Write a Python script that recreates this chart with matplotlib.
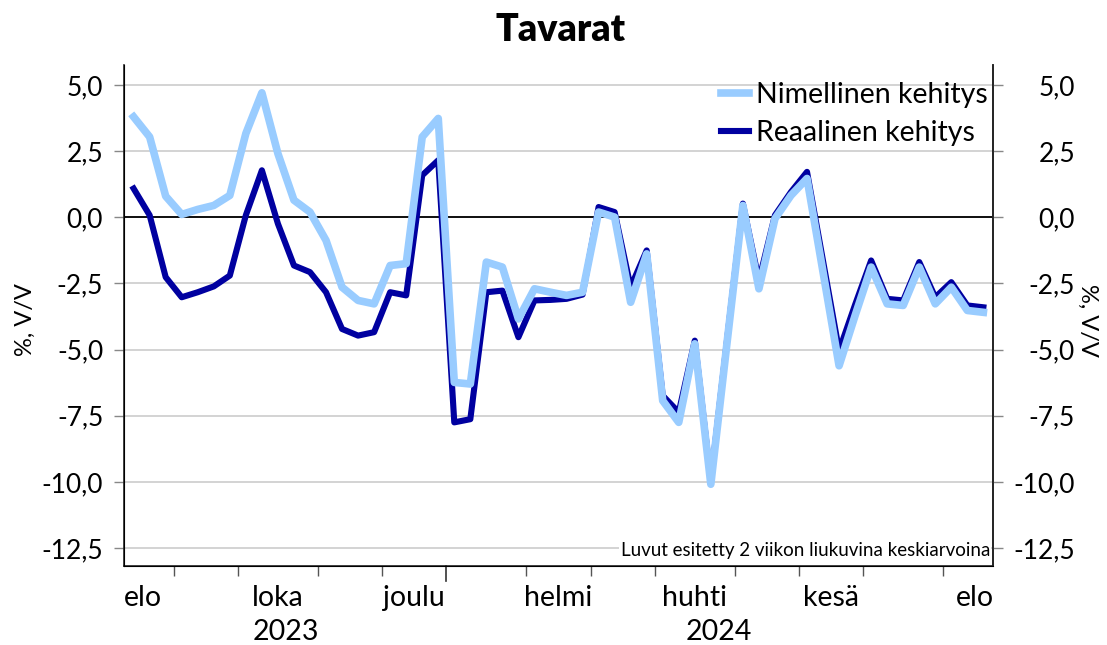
import numpy as np
import pandas as pd
import matplotlib
matplotlib.use("Agg")
import matplotlib.pyplot as plt
import matplotlib.transforms as mtransforms

# ================================
# DATA
# ================================

WEEKS = pd.date_range("2023-08-14", periods=54, freq="7D")

NOMINAL = [3.80, 3.04, 0.80, 0.11, 0.30, 0.45, 0.83, 3.17, 4.71, 2.41,
           0.65, 0.20, -0.87, -2.64, -3.14, -3.27, -1.82, -1.75, 3.04, 3.74,
           -6.24, -6.30, -1.69, -1.88, -3.84, -2.70, -2.83, -2.95, -2.83, 0.20,
           0.01, -3.21, -1.38, -6.93, -7.75, -4.78, -10.09, -4.80, 0.45, -2.70,
           -0.05, 0.83, 1.47, -2.07, -5.61, -3.71, -1.88, -3.27, -3.33, -1.88,
           -3.27, -2.64, -3.52, -3.59]

REAL = [1.09, 0.08, -2.26, -3.02, -2.83, -2.61, -2.20, 0.08, 1.78, -0.24,
        -1.82, -2.07, -2.83, -4.22, -4.47, -4.34, -2.83, -2.95, 1.59, 2.16,
        -7.75, -7.63, -2.83, -2.77, -4.53, -3.14, -3.12, -3.08, -2.92, 0.39,
        0.20, -2.64, -1.25, -6.74, -7.37, -4.66, -9.96, -4.70, 0.52, -2.39,
        0.08, 0.96, 1.72, -1.65, -5.04, -3.30, -1.63, -3.08, -3.14, -1.69,
        -3.02, -2.45, -3.33, -3.40]

MONTHS_FI = ["tammi", "helmi", "maalis", "huhti", "touko", "kesä",
             "heinä", "elo", "syys", "loka", "marras", "joulu"]
LABELED_MONTHS = [8, 10, 12, 2, 4, 6]

Y_TICKS = [5.0, 2.5, 0.0, -2.5, -5.0, -7.5, -10.0, -12.5]

TITLE = "Tavarat"
NOTE = "Luvut esitetty 2 viikon liukuvina keskiarvoina"

LIGHT = "#99ccff"
DARK = "#0000a0"

plt.rcParams["font.family"] = ["Lato", "DejaVu Sans"]

# ================================
# PLOT
# ================================

fig = plt.figure(figsize=(11.07, 6.45), dpi=100)
ax = fig.add_axes([124 / 1107, 1 - 566 / 645, 869 / 1107, 501 / 645])

x = np.arange(len(WEEKS))
ax.plot(x, REAL, color=DARK, lw=4.4, label="Reaalinen kehitys", zorder=3)
ax.plot(x, NOMINAL, color=LIGHT, lw=5.5, label="Nimellinen kehitys", zorder=4)

ax.axhline(0, color="black", lw=1.3, zorder=2)
ax.set_ylim(-13.18, 5.76)
ax.set_xlim(-0.6, 53.6)
ax.set_yticks(Y_TICKS)
ax.set_yticklabels([f"{v:.1f}".replace(".", ",") for v in Y_TICKS])
ax.grid(axis="y", color="#cccccc", lw=1.2, zorder=1)
ax.set_axisbelow(True)

for side in ["left", "right", "bottom"]:
    ax.spines[side].set_color("#222222")
    ax.spines[side].set_linewidth(1.2)
ax.spines["top"].set_visible(False)

ax.tick_params(axis="y", length=7, width=1, color="#888888", labelsize=19, pad=8)

# right axis
ax2 = ax.twinx()
ax2.set_ylim(ax.get_ylim())
ax2.set_yticks(Y_TICKS)
ax2.set_yticklabels([f"{v:.1f}".replace(".", ",") for v in Y_TICKS])
ax2.tick_params(axis="y", length=7, width=1, color="#888888", labelsize=19, pad=52)
for lab in ax2.get_yticklabels():
    lab.set_ha("right")
ax2.spines["top"].set_visible(False)
ax2.spines["right"].set_color("#222222")
ax2.spines["right"].set_linewidth(1.2)

# month / year structure of the weekly axis
months = [(d.year, d.month) for d in WEEKS]
bounds, year_bounds = [], []
for i in range(1, len(months)):
    if months[i] != months[i - 1]:
        if months[i][0] != months[i - 1][0]:
            year_bounds.append(i - 0.5)
        else:
            bounds.append(i - 0.5)

ax.set_xticks(bounds, minor=True)
ax.set_xticks([])
ax.tick_params(axis="x", which="minor", length=7, width=1, color="#555555")

trans = mtransforms.blended_transform_factory(ax.transData, ax.transAxes)
for b in year_bounds:
    ax.plot([b, b], [0, -0.03], transform=trans, color="#333333", lw=1.2, clip_on=False)

seen = []
for ym in months:
    if ym in seen:
        continue
    seen.append(ym)
    if ym[1] in LABELED_MONTHS:
        idx = [i for i, m in enumerate(months) if m == ym]
        xm = np.mean(idx)
        # first and last month are only partly shown: nudge toward the edge
        if ym == months[0]:
            xm -= 0.4
        elif ym == months[-1]:
            xm += 0.5
        ax.text(xm, -0.064, MONTHS_FI[ym[1] - 1], transform=trans,
                ha="center", va="center", fontsize=20.5)

years = sorted(set(d.year for d in WEEKS))
for yr in years:
    idx = [i for i, d in enumerate(WEEKS) if d.year == yr]
    ax.text(np.mean(idx), -0.132, str(yr), transform=trans,
            ha="center", va="center", fontsize=20.5)

fig.text(25 / 1107, 1 - 320 / 645, "%, V/V", rotation=90, ha="center", va="center", fontsize=17)
fig.text(1088 / 1107, 1 - 320 / 645, "%, V/V", rotation=270, ha="center", va="center", fontsize=17)

fig.text(560 / 1107, 1 - 30 / 645, TITLE, ha="center", va="center",
         fontsize=27, fontweight="heavy")

ax.text(0.9965, 0.03, NOTE, transform=ax.transAxes, ha="right", va="center",
        fontsize=13.5, bbox=dict(facecolor="white", edgecolor="none", pad=1), zorder=5)

handles, labels = ax.get_legend_handles_labels()
leg = ax.legend(handles[::-1], labels[::-1], loc="upper right", frameon=False,
                fontsize=20.5, handlelength=1.0, handletextpad=0.25,
                bbox_to_anchor=(1.004, 1 - 8 / 501),
                borderaxespad=0.0, borderpad=0.3, labelspacing=0.45)
leg.set_zorder(6)

fig.savefig("out.png", dpi=100)
